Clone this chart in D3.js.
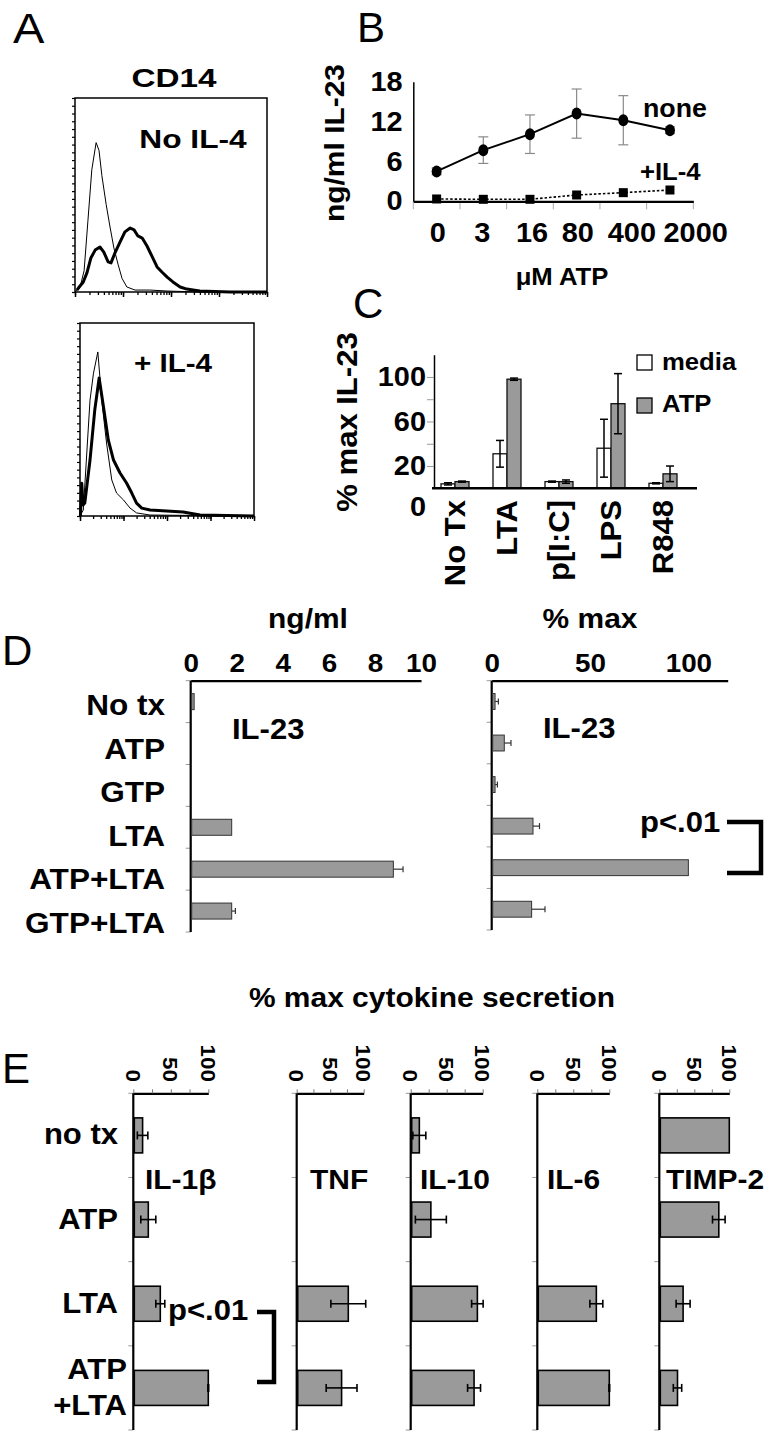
<!DOCTYPE html>
<html><head><meta charset="utf-8">
<script src="https://cdn.jsdelivr.net/npm/d3@7"></script>
<style>body{margin:0;background:#fff;} svg{display:block;}</style>
</head><body><svg id="c" width="770" height="1437"></svg>
<script>
// ---------------- DATA ----------------
// Panel A: CD14 flow histograms (log10 fluorescence, % of max count)
const a1IsoLog   = [0, 0.02, 0.10, 0.19, 0.27, 0.35, 0.44, 0.50, 0.56, 0.65, 0.73, 0.81, 0.90, 0.98, 1.08, 1.25, 1.56, 1.92, 2.6, 4];
const a1IsoCount = [0, 0.5, 2, 11, 37, 63, 77, 73, 60, 45, 33.5, 22.7, 14, 7, 2.6, 1, 1, 0.5, 0, 0];
const a1CdLog    = [0.04, 0.10, 0.17, 0.25, 0.33, 0.42, 0.52, 0.60, 0.69, 0.75, 0.83, 0.94, 1.04, 1.15, 1.23, 1.31, 1.40, 1.50, 1.60, 1.71, 1.81, 1.92, 2.04, 2.19, 2.33, 2.46, 2.60, 3.23, 4.0];
const a1CdCount  = [1, 3, 5, 10, 17.5, 21.6, 23.2, 20.6, 15.5, 15, 20, 25.8, 31, 33, 32, 28.9, 27.8, 23.7, 18.6, 12.9, 10.3, 7.7, 5.2, 2.6, 1.5, 1, 0.5, 0, 0];
const a2IsoLog   = [0.01, 0.076, 0.23, 0.31, 0.41, 0.50, 0.61, 0.73, 0.84, 1.00, 1.15, 1.30, 1.61, 4.0];
const a2IsoCount = [0.5, 3.1, 60, 74, 85, 60, 37.8, 18.7, 11.9, 8.3, 4.1, 1.6, 0.5, 0];
const a2CdLog    = [0.01, 0.04, 0.07, 0.11, 0.23, 0.34, 0.44, 0.54, 0.65, 0.77, 0.92, 1.07, 1.19, 1.30, 1.42, 1.61, 1.99, 2.37, 2.76, 4.0];
const a2CdCount  = [0, 17, 5.7, 6.7, 29, 55, 71.5, 56.5, 39.4, 29, 22.3, 17.1, 11.9, 6.7, 4.1, 3.1, 2.6, 2.1, 0.5, 0];

// Panel B: ng/ml IL-23 vs ATP dose
const atpDoses   = ["0", "3", "16", "80", "400", "2000"];
const bTicks     = [0, 6, 12, 18];
const il23None   = [4.5, 7.7, 10.1, 13.2, 12.2, 10.7];
const il23NoneErr= [0.5, 2.0, 2.9, 3.7, 3.7, 0.5];
const il23IL4    = [0.35, 0.3, 0.3, 0.95, 1.3, 1.7];

// Panel C: % max IL-23 by TLR ligand
const tlrCats    = ["No Tx", "LTA", "p[I:C]", "LPS", "R848"];
const cMedia     = [4, 31, 6, 36, 4.5];
const cMediaErr  = [1, 12, 0.5, 26, 0.5];
const cATP       = [6, 98, 6, 76, 13];
const cATPErr    = [0.5, 1, 1.5, 27, 7];
const cTickLabels= [100, 60, 20, 0];

// Panel D
const dCats      = ["No tx", "ATP", "GTP", "LTA", "ATP+LTA", "GTP+LTA"];
const dNg        = [0.15, 0, 0, 1.78, 8.8, 1.78];
const dNgErr     = [0, 0, 0, 0, 0.42, 0.16];
const dNgTicks   = [0, 2, 4, 6, 8, 10];
const dPct       = [1.7, 6.4, 1.7, 21, 100, 20.3];
const dPctErr    = [1.7, 3.4, 1.2, 3.3, 0, 6.8];
const dPctTicks  = [0, 50, 100];

// Panel E
const eCats      = ["no tx", "ATP", "LTA", "ATP\n+LTA"];
const eCytokines = ["IL-1β", "TNF", "IL-10", "IL-6", "TIMP-2"];
const eIL1b      = [12.4, 20, 36, 100];
const eIL1bErr   = [7, 10, 6, 0.5];
const eTNF       = [0, 0, 77, 67];
const eTNFErr    = [0, 0, 26, 23];
const eIL10      = [12, 28, 92.6, 88];
const eIL10Err   = [9, 21.5, 8, 9];
const eIL6       = [0, 0, 82, 100];
const eIL6Err    = [0, 0, 9, 0.5];
const eTIMP2     = [100, 85, 34, 26];
const eTIMP2Err  = [0, 9, 10, 6];
const eTickLabels= [0, 50, 100];

// ---------------- DRAW ----------------
const F = '"Liberation Sans", Arial, Helvetica, sans-serif';
const GRAY = "#9a9a9a";
const ST = 1.07;   // the original lettering is slightly wider than Arial
const svg = d3.select("#c");
svg.append("rect").attr("width", 770).attr("height", 1437).attr("fill", "#fff");

function stretch(rot, s) {
  return (rot === 90 || rot === -90) ? `scale(1,${s})` : `scale(${s},1)`;
}
function txt(x, y, s, o = {}) {
  const rot = o.rot || 0;
  const st = o.st || (o.weight === "normal" ? 1 : ST);
  const t = svg.append("text")
    .attr("transform", `translate(${x},${y}) ${stretch(rot, st)} rotate(${rot})`)
    .attr("font-family", F)
    .attr("font-size", o.size || 26)
    .attr("font-weight", o.weight || "bold")
    .attr("text-anchor", o.anchor || "start")
    .attr("fill", "#000")
    .text(s);
  if (o.dy) t.attr("dy", o.dy);
  return t;
}
function styleAxis(g, size, sw) {
  g.attr("font-family", F).attr("font-size", size).attr("font-weight", "bold");
  g.select(".domain").attr("stroke-width", sw);
  g.selectAll(".tick text").attr("transform", `scale(${ST},1)`);
}

// Panel letters
txt(13, 43, "A", {size: 42, weight: "normal", st: 1.12});
txt(357, 42, "B", {size: 42, weight: "normal"});
txt(353, 318, "C", {size: 42, weight: "normal"});
txt(2, 665, "D", {size: 42, weight: "normal"});
txt(2, 1083, "E", {size: 42, weight: "normal"});

// ---------- Panel A ----------
function histBox(box, isoLog, isoCnt, cdLog, cdCnt) {
  const x = d3.scaleLog().domain([1, 1e4]).range([box.x0, box.x1]);
  const y = d3.scaleLinear().domain([0, 100]).range([box.y1, box.y0]);
  const g = svg.append("g");
  g.append("rect").attr("x", box.x0).attr("y", box.y0)
    .attr("width", box.x1 - box.x0).attr("height", box.y1 - box.y0)
    .attr("fill", "none").attr("stroke", "#000").attr("stroke-width", 1.5);
  const gx = g.append("g").attr("transform", `translate(0,${box.y1})`)
    .call(d3.axisBottom(x).tickValues(x.ticks()).tickSize(3).tickSizeOuter(0).tickFormat(""));
  gx.select(".domain").remove();
  gx.selectAll("line").attr("stroke-width", 1.3);
  const gxm = g.append("g").attr("transform", `translate(0,${box.y1})`)
    .call(d3.axisBottom(x).tickValues([1, 10, 100, 1000, 10000]).tickSize(5).tickFormat(""));
  gxm.select(".domain").remove();
  gxm.selectAll("line").attr("stroke-width", 1.5);
  const gy = g.append("g").attr("transform", `translate(${box.x0},0)`)
    .call(d3.axisLeft(y).tickValues(d3.range(0, 101, 4)).tickSize(3).tickFormat(""));
  gy.select(".domain").remove();
  gy.selectAll("line").attr("stroke-width", 1.2);
  const line = d3.line().x(d => x(Math.pow(10, d[0]))).y(d => y(d[1]));
  g.append("path").datum(isoLog.map((v, i) => [v, isoCnt[i]]))
    .attr("d", line).attr("fill", "none").attr("stroke", "#000").attr("stroke-width", 1);
  g.append("path").datum(cdLog.map((v, i) => [v, cdCnt[i]]))
    .attr("d", line).attr("fill", "none").attr("stroke", "#000").attr("stroke-width", 3)
    .attr("stroke-linejoin", "round");
}
histBox({x0: 75, x1: 267, y0: 98, y1: 292}, a1IsoLog, a1IsoCount, a1CdLog, a1CdCount);
histBox({x0: 80, x1: 254, y0: 323, y1: 516}, a2IsoLog, a2IsoCount, a2CdLog, a2CdCount);
txt(174, 87, "CD14", {size: 26, anchor: "middle", st: 1.28});
txt(193, 148, "No IL-4", {size: 26, anchor: "middle", st: 1.22});
txt(173, 372, "+ IL-4", {size: 26, anchor: "middle", st: 1.14});

// ---------- Panel B ----------
{
  const x = d3.scaleBand().domain(atpDoses).range([413.3, 693.3]);
  const y = d3.scaleLinear().domain([0, 18]).range([201.3, 81.7]);
  const cx = d => x(d) + x.bandwidth() / 2;
  const labelShift = [1, -1, 2, 1, 8, 24];   // tick-label nudges seen in the original
  const g = svg.append("g");
  g.selectAll(".bt").data([...atpDoses.map(d => x(d)), x.range()[1]]).join("line")
    .attr("x1", d => d).attr("x2", d => d).attr("y1", y(0)).attr("y2", y(0) + 8)
    .attr("stroke", "#aaa").attr("stroke-width", 1);
  const gx = g.append("g").attr("transform", `translate(0,${y(0)})`)
    .call(d3.axisBottom(x).tickSize(0).tickSizeOuter(0).tickPadding(22));
  styleAxis(gx, 27, 2.2);
  gx.selectAll(".tick text").attr("dx", (d, i) => labelShift[i]);
  const gy = g.append("g").attr("transform", `translate(${x.range()[0]},0)`)
    .call(d3.axisLeft(y).tickValues(bTicks).tickSize(0).tickSizeOuter(0).tickPadding(10));
  styleAxis(gy, 27, 1.5);
  const eb = g.append("g").attr("stroke", "#8a8a8a").attr("stroke-width", 1.2);
  atpDoses.forEach((d, i) => {
    const e = il23NoneErr[i], v = il23None[i];
    eb.append("line").attr("x1", cx(d)).attr("x2", cx(d)).attr("y1", y(v - e)).attr("y2", y(v + e));
    [v - e, v + e].forEach(w => eb.append("line").attr("x1", cx(d) - 5).attr("x2", cx(d) + 5)
      .attr("y1", y(w)).attr("y2", y(w)));
  });
  const line = d3.line().x(d => cx(d[0])).y(d => y(d[1]));
  g.append("path").datum(atpDoses.map((d, i) => [d, il23IL4[i]])).attr("d", line)
    .attr("fill", "none").attr("stroke", "#000").attr("stroke-width", 1.6).attr("stroke-dasharray", "2.5,2");
  g.append("path").datum(atpDoses.map((d, i) => [d, il23None[i]])).attr("d", line)
    .attr("fill", "none").attr("stroke", "#000").attr("stroke-width", 2);
  g.selectAll(".sq").data(atpDoses).join("rect")
    .attr("x", d => cx(d) - 4.5).attr("y", (d, i) => y(il23IL4[i]) - 4.5)
    .attr("width", 9).attr("height", 9).attr("fill", "#000");
  g.selectAll(".ci").data(atpDoses).join("ellipse")
    .attr("cx", d => cx(d)).attr("cy", (d, i) => y(il23None[i])).attr("rx", 5).attr("ry", 6)
    .attr("fill", "#000");
  txt(643, 117, "none", {size: 25});
  txt(640, 180, "+IL-4", {size: 24});
  txt(562, 285, "μM ATP", {size: 24, anchor: "middle"});
  txt(344, 143, "ng/ml IL-23", {size: 28, anchor: "middle", rot: -90});
}

// ---------- Panel C ----------
{
  const x = d3.scaleBand().domain(tlrCats).range([429, 689]);
  const xi = d3.scaleBand().domain(["media", "ATP"]).range([0, x.bandwidth()]).paddingInner(0).paddingOuter(0.857);
  const y = d3.scaleLinear().domain([0, 120]).range([488.3, 354.7]);
  const g = svg.append("g");
  const gy = g.append("g").attr("transform", "translate(434,0)")
    .call(d3.axisLeft(y).tickValues([20, 40, 60, 80, 100]).tickSize(7).tickSizeOuter(0).tickFormat(""));
  gy.select(".domain").attr("stroke-width", 1.5);
  gy.selectAll(".tick line").attr("stroke", "#999");
  const series = [["media", cMedia, cMediaErr, "#fff"], ["ATP", cATP, cATPErr, GRAY]];
  series.forEach(([name, vals, errs, fill]) => {
    g.selectAll(".b" + name).data(tlrCats).join("rect")
      .attr("x", d => x(d) + xi(name)).attr("width", xi.bandwidth())
      .attr("y", (d, i) => y(vals[i])).attr("height", (d, i) => y(0) - y(vals[i]))
      .attr("fill", fill).attr("stroke", "#111").attr("stroke-width", 1.3);
  });
  series.forEach(([name, vals, errs]) => {
    tlrCats.forEach((d, i) => {
      const c = x(d) + xi(name) + xi.bandwidth() / 2, v = vals[i], e = errs[i];
      g.append("line").attr("x1", c).attr("x2", c).attr("y1", y(v - e)).attr("y2", y(v + e))
        .attr("stroke", "#000").attr("stroke-width", 1.5);
      [v - e, v + e].forEach(w => g.append("line").attr("x1", c - 4).attr("x2", c + 4)
        .attr("y1", y(w)).attr("y2", y(w)).attr("stroke", "#000").attr("stroke-width", 1.5));
    });
  });
  g.append("line").attr("x1", 432).attr("x2", 697).attr("y1", y(0)).attr("y2", y(0))
    .attr("stroke", "#000").attr("stroke-width", 2.5);
  cTickLabels.forEach(v => {
    if (v === 0) txt(426, y(v) + 18, v, {size: 27, anchor: "end", dy: "0.35em"});
    else txt(426, y(v), v, {size: 27, anchor: "end", dy: "0.35em"});
  });
  tlrCats.forEach(d => txt(x(d) + x.bandwidth() / 2, 500, d, {size: 29, anchor: "end", rot: -90, dy: "0.36em"}));
  g.append("rect").attr("x", 637).attr("y", 355).attr("width", 15).attr("height", 15)
    .attr("fill", "#fff").attr("stroke", "#000").attr("stroke-width", 1.3);
  g.append("rect").attr("x", 637).attr("y", 398).attr("width", 15).attr("height", 15)
    .attr("fill", GRAY).attr("stroke", "#000").attr("stroke-width", 1.3);
  txt(662, 370, "media", {size: 24});
  txt(662, 412, "ATP", {size: 24});
  txt(357, 422, "% max IL-23", {size: 29, anchor: "middle", rot: -90});
}

// ---------- Panel D ----------
function hbarPanel(o) {
  const x = d3.scaleLinear().domain(o.domain).range(o.xr);
  const y = d3.scaleBand().domain(dCats).range(o.yr).paddingInner(0.618).paddingOuter(0.309);
  const g = svg.append("g");
  const gx = g.append("g").attr("transform", `translate(0,${o.yr[0]})`)
    .call(d3.axisTop(x).tickValues(o.ticks).tickSize(0).tickSizeOuter(0).tickPadding(9));
  styleAxis(gx, 26, 2.2);
  const bounds = [...dCats.map(c => y(c) - (y.step() - y.bandwidth()) / 2), o.yr[1]];
  g.selectAll(".yt").data(bounds).join("line")
    .attr("x1", x(0) - 5).attr("x2", x(0)).attr("y1", d => d).attr("y2", d => d)
    .attr("stroke", "#999").attr("stroke-width", 1);
  g.append("line").attr("x1", x(0)).attr("x2", x(0)).attr("y1", o.yr[0]).attr("y2", o.yr[1])
    .attr("stroke", "#000").attr("stroke-width", 2.2);
  dCats.forEach((c, i) => {
    const v = o.vals[i], e = o.errs[i];
    if (v <= 0) return;
    const cy = y(c) + y.bandwidth() / 2;
    if (e > 0) {
      g.append("line").attr("x1", x(v)).attr("x2", x(v + e)).attr("y1", cy).attr("y2", cy)
        .attr("stroke", "#333").attr("stroke-width", 1.2);
      g.append("line").attr("x1", x(v + e)).attr("x2", x(v + e)).attr("y1", cy - 3).attr("y2", cy + 3)
        .attr("stroke", "#333").attr("stroke-width", 1.2);
    }
    g.append("rect").attr("x", x(0) + 1).attr("y", y(c)).attr("width", x(v) - x(0) - 1)
      .attr("height", y.bandwidth()).attr("fill", GRAY).attr("stroke", "#333").attr("stroke-width", 1);
  });
  return {x, y};
}
{
  hbarPanel({domain: [0, 10], xr: [190.7, 421], yr: [680.7, 932], ticks: dNgTicks, vals: dNg, errs: dNgErr});
  hbarPanel({domain: [0, 120], xr: [491.7, 727.7], yr: [680.7, 930], ticks: dPctTicks, vals: dPct, errs: dPctErr});
  const ly = d3.scalePoint().domain(dCats).range([715, 933]);
  dCats.forEach(c => txt(165, ly(c), c, {size: 29.5, anchor: "end"}));
  txt(308, 628, "ng/ml", {size: 28, anchor: "middle"});
  txt(590, 628, "% max", {size: 28, anchor: "middle"});
  txt(232, 739, "IL-23", {size: 29});
  txt(543, 738, "IL-23", {size: 29});
  txt(640, 832, "p<.01", {size: 29});
  svg.append("path").attr("d", "M727,822H761V873H727").attr("fill", "none")
    .attr("stroke", "#000").attr("stroke-width", 4.5);
}

// ---------- Panel E ----------
{
  const ePanelX = [133.3, 296.7, 410.7, 537.3, 659.3];
  const ePanelW = [75, 67, 72, 72, 70];
  const eLabelX = [145, 310, 420, 547, 666];
  const eVals = [eIL1b, eTNF, eIL10, eIL6, eTIMP2];
  const eErrs = [eIL1bErr, eTNFErr, eIL10Err, eIL6Err, eTIMP2Err];
  const yr = [1093.3, 1430];
  const y = d3.scaleBand().domain(eCats).range(yr).paddingInner(0.584).paddingOuter(0.292);
  eCytokines.forEach((name, p) => {
    const x = d3.scaleLinear().domain([0, 100]).range([ePanelX[p], ePanelX[p] + ePanelW[p]]);
    const g = svg.append("g");
    const gx = g.append("g").attr("transform", `translate(0,${yr[0]})`)
      .call(d3.axisTop(x).tickValues([0, 25, 50, 75, 100]).tickSize(4).tickSizeOuter(0).tickFormat(""));
    gx.select(".domain").attr("stroke-width", 2.2);
    gx.selectAll(".tick line").attr("stroke", "#777");
    const bounds = [...eCats.map(c => y(c) - (y.step() - y.bandwidth()) / 2), yr[1]];
    g.selectAll(".yt").data(bounds).join("line")
      .attr("x1", x(0) - 5).attr("x2", x(0)).attr("y1", d => d).attr("y2", d => d)
      .attr("stroke", "#999").attr("stroke-width", 1);
    g.append("line").attr("x1", x(0)).attr("x2", x(0)).attr("y1", yr[0]).attr("y2", yr[1])
      .attr("stroke", "#000").attr("stroke-width", 2.2);
    eCats.forEach((c, i) => {
      const v = eVals[p][i], e = eErrs[p][i];
      if (v <= 0) return;
      g.append("rect").attr("x", x(0) + 1).attr("y", y(c)).attr("width", x(v) - x(0) - 1)
        .attr("height", y.bandwidth()).attr("fill", GRAY).attr("stroke", "#000").attr("stroke-width", 1.6);
      if (e > 0) {
        const cy = y(c) + y.bandwidth() / 2;
        g.append("line").attr("x1", x(v - e)).attr("x2", x(v + e)).attr("y1", cy).attr("y2", cy)
          .attr("stroke", "#000").attr("stroke-width", 1.6);
        [v - e, v + e].forEach(w => g.append("line").attr("x1", x(w)).attr("x2", x(w))
          .attr("y1", cy - 4).attr("y2", cy + 4).attr("stroke", "#000").attr("stroke-width", 1.6));
      }
    });
    eTickLabels.forEach(v => txt(x(v), 1082, v, {size: 21, anchor: "end", rot: 90, dy: "0.36em"}));
    txt(eLabelX[p], 1189, name, {size: 28});
  });
  eCats.forEach(c => {
    const lines = c.split("\n");
    const cy = y(c) + y.bandwidth() / 2;
    const right = lines.length > 1 ? 127 : 118;
    lines.forEach((s, k) => txt(right, cy + 9 + (k - (lines.length - 1) / 2) * 36, s, {size: 29, anchor: "end"}));
  });
  txt(432, 1007, "% max cytokine secretion", {size: 28, anchor: "middle"});
  txt(168, 1320, "p<.01", {size: 29});
  svg.append("path").attr("d", "M257,1312H274V1382H257").attr("fill", "none")
    .attr("stroke", "#000").attr("stroke-width", 4.5);
}
</script></body></html>
